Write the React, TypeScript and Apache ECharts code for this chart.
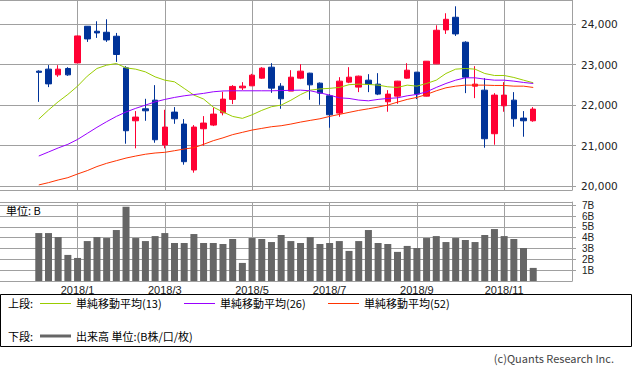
import React, { useEffect, useRef } from 'react';
import * as echarts from 'echarts';

const weeks = [
  '2017-12-04', '2017-12-11', '2017-12-18', '2017-12-25',
  '2018-01-01', '2018-01-08', '2018-01-15', '2018-01-22', '2018-01-29',
  '2018-02-05', '2018-02-12', '2018-02-19', '2018-02-26',
  '2018-03-05', '2018-03-12', '2018-03-19', '2018-03-26',
  '2018-04-02', '2018-04-09', '2018-04-16', '2018-04-23', '2018-04-30',
  '2018-05-07', '2018-05-14', '2018-05-21', '2018-05-28',
  '2018-06-04', '2018-06-11', '2018-06-18', '2018-06-25',
  '2018-07-02', '2018-07-09', '2018-07-16', '2018-07-23', '2018-07-30',
  '2018-08-06', '2018-08-13', '2018-08-20', '2018-08-27',
  '2018-09-03', '2018-09-10', '2018-09-17', '2018-09-24',
  '2018-10-01', '2018-10-08', '2018-10-15', '2018-10-22', '2018-10-29',
  '2018-11-05', '2018-11-12', '2018-11-19', '2018-11-26',
];

const opens = [
  22840, 22890, 22748, 22906, 23044, 23951, 23827, 23802, 23704, 22921,
  21612, 21909, 22123, 21012, 21827, 21531, 20395, 21415, 21506, 21810,
  22141, 22427, 22477, 22667, 22938, 22469, 22346, 22667, 22790, 22543,
  22230, 21802, 22568, 22445, 22617, 22519, 22082, 22222, 22667, 22815,
  22222, 23020, 23860, 24173, 23556, 22469, 22370, 21292, 21983, 22123,
  21679, 21612,
];
const closes = [
  22810, 22525, 22889, 22748, 23711, 23637, 23785, 23612, 23252, 21366,
  21704, 21859, 21143, 21457, 21662, 20600, 21457, 21556, 21778, 22148,
  22462, 22469, 22741, 22914, 22420, 22156, 22691, 22840, 22501, 22296,
  21761, 22593, 22691, 22716, 22519, 22272, 22272, 22593, 22864, 22272,
  23086, 23852, 24123, 23761, 22691, 22519, 21168, 22247, 22247, 21662,
  21612, 21901,
];
const lows = [
  22080, 22445, 22699, 22724, 23040, 23563, 23662, 23563, 23069, 21045,
  20931, 21612, 21069, 20931, 21538, 20526, 20329, 20995, 21481, 21746,
  22025, 22370, 22470, 22650, 22304, 21909, 22346, 22642, 22131, 22008,
  21440, 21711, 22543, 22321, 22321, 22247, 21836, 22032, 22650, 22148,
  22215, 23015, 23761, 23711, 22296, 22173, 20946, 21020, 21836, 21464,
  21218, 21588,
];
const highs = [
  22860, 22990, 22988, 22938, 23720, 23955, 24074, 24123, 23785, 22963,
  21852, 22156, 22494, 21884, 21951, 21654, 21506, 21728, 21943, 22329,
  22494, 22568, 22773, 22938, 23037, 22543, 22864, 23012, 22800, 22560,
  22272, 22691, 22938, 22730, 22765, 22790, 22370, 22600, 23037, 22820,
  23090, 23975, 24272, 24444, 23580, 22963, 22667, 22296, 22568, 22321,
  21852, 21951,
];

const ma13 = [
  21654, 21877, 22082, 22264, 22469, 22716, 22906, 22988, 23029, 22921,
  22889, 22822, 22699, 22617, 22576, 22412, 22247, 22150, 21950, 21830,
  21720, 21672, 21760, 21870, 21960, 22000, 22120, 22260, 22370, 22400,
  22415, 22437, 22505, 22519, 22511, 22494, 22453, 22437, 22494, 22469,
  22535, 22617, 22782, 22889, 22906, 22889, 22782, 22733, 22733, 22684,
  22617, 22552,
];
const ma26 = [
  20741, 20840, 20940, 21030, 21150, 21300, 21450, 21590, 21720, 21830,
  21920, 22000, 22080, 22140, 22190, 22230, 22260, 22290, 22330, 22350,
  22354, 22354, 22354, 22354, 22354, 22360, 22365, 22370, 22354, 22304,
  22247, 22180, 22165, 22124, 22106, 22141, 22165, 22180, 22230, 22264,
  22329, 22437, 22535, 22617, 22675, 22675, 22642, 22617, 22617, 22593,
  22560, 22535,
];
const ma52 = [
  20025, 20082, 20148, 20205, 20296, 20380, 20480, 20560, 20625, 20690,
  20740, 20785, 20815, 20832, 20872, 20914, 20946, 21030, 21120, 21190,
  21270, 21326, 21383, 21424, 21465, 21490, 21531, 21580, 21622, 21662,
  21720, 21770, 21820, 21869, 21909, 21951, 22000, 22074, 22141, 22190,
  22264, 22354, 22428, 22469, 22494, 22494, 22494, 22486, 22486, 22469,
  22469, 22437,
];

const volumes = [
  4.43, 4.43, 4.06, 2.41, 2.13, 3.69, 4.06, 3.97, 4.71, 6.85,
  3.97, 3.69, 4.15, 4.43, 3.51, 3.51, 4.34, 3.51, 3.51, 3.42,
  3.88, 1.67, 3.97, 3.88, 3.6, 4.25, 3.69, 3.51, 4.06, 3.42,
  3.51, 3.69, 2.78, 3.69, 4.71, 3.51, 3.42, 2.69, 3.24, 3.05,
  3.97, 4.15, 3.6, 3.97, 3.79, 3.6, 4.25, 4.8, 4.15, 3.88,
  3.05, 1.21,
];

const tickWeeks = ['2018-01-01', '2018-03-05', '2018-05-07', '2018-07-02', '2018-09-03', '2018-11-05'];
const tickLabels = ['2018/1', '2018/3', '2018/5', '2018/7', '2018/9', '2018/11'];

const legendNames = ['単純移動平均(13)', '単純移動平均(26)', '単純移動平均(52)'];
const maColors = ['#99cc00', '#9900ff', '#ff3300'];

const preCats = ['p1', 'p2', 'p3', 'p4'];
const postCats = ['q1', 'q2', 'q3', 'q4'];
const categories = [...preCats, ...weeks, ...postCats];
const padArr = (arr: any[]) => [...preCats.map(() => '-'), ...arr, ...postCats.map(() => '-')];

const GRID_COLOR = '#a0a0a0';
const CJK = '"Noto Sans CJK JP", "Noto Sans", sans-serif';

export default function App() {
  const ref = useRef<HTMLDivElement>(null);
  useEffect(() => {
    document.body.style.margin = '0';
    const chart = echarts.init(ref.current!, undefined, { renderer: 'svg' });
    const candleData = padArr(weeks.map((_, i) => [opens[i], closes[i], lows[i], highs[i]]));
    const isTick = (_i: number, v: string) => tickWeeks.indexOf(v) >= 0;

    const xCommon = {
      type: 'category',
      data: categories,
      boundaryGap: false,
      axisLine: { show: true, lineStyle: { color: GRID_COLOR } },
      axisTick: { show: false },
      splitLine: { show: true, interval: isTick, lineStyle: { color: GRID_COLOR, width: 1 } },
    };

    const option: any = {
      animation: false,
      backgroundColor: '#ffffff',
      grid: [
        { left: 0, right: 61, top: 0, height: 190 },
        { left: 0, right: 61, top: 202, height: 79 },
      ],
      xAxis: [
        { ...xCommon, gridIndex: 0, axisLabel: { show: false } },
        {
          ...xCommon,
          gridIndex: 1,
          axisLabel: {
            show: true,
            interval: isTick,
            margin: 3,
            color: '#222',
            fontSize: 11,
            fontFamily: '"Liberation Sans", sans-serif',
            formatter: (v: string) => {
              const k = tickWeeks.indexOf(v);
              return k >= 0 ? tickLabels[k] : '';
            },
          },
        },
      ],
      yAxis: [
        {
          type: 'value',
          gridIndex: 0,
          position: 'right',
          min: 19900,
          max: 24600,
          splitNumber: 5,
          axisLine: { show: true, lineStyle: { color: GRID_COLOR } },
          axisTick: { show: true, inside: false, length: 4, lineStyle: { color: GRID_COLOR } },
          splitLine: { show: true, lineStyle: { color: GRID_COLOR, width: 1 } },
          axisLabel: {
            showMinLabel: false,
            showMaxLabel: false,
            margin: 9,
            color: '#222',
            fontSize: 10.5,
            fontFamily: '"DejaVu Sans", sans-serif',
            formatter: (v: number) => v.toLocaleString('en-US'),
          },
        },
        {
          type: 'value',
          gridIndex: 1,
          position: 'right',
          min: 0,
          max: 7.3,
          splitNumber: 7,
          axisLine: { show: true, lineStyle: { color: GRID_COLOR } },
          axisTick: { show: true, inside: false, length: 4, lineStyle: { color: GRID_COLOR } },
          splitLine: { show: true, lineStyle: { color: GRID_COLOR, width: 1 } },
          axisLabel: {
            showMinLabel: false,
            showMaxLabel: false,
            margin: 10,
            color: '#222',
            fontSize: 10,
            fontFamily: '"Liberation Sans", sans-serif',
            formatter: (v: number) => `${v}B`,
          },
        },
      ],
      series: [
        {
          type: 'candlestick',
          xAxisIndex: 0,
          yAxisIndex: 0,
          data: candleData,
          barWidth: 6,
          itemStyle: {
            color: '#ff0033',
            color0: '#003399',
            borderColor: '#ff0033',
            borderColor0: '#003399',
            borderWidth: 1,
          },
        },
        ...[ma13, ma26, ma52].map((arr, k) => ({
          type: 'line',
          name: legendNames[k],
          xAxisIndex: 0,
          yAxisIndex: 0,
          data: padArr(arr),
          showSymbol: false,
          symbol: 'none',
          smooth: false,
          lineStyle: { color: maColors[k], width: 1 },
          z: 3,
        })),
        {
          type: 'bar',
          xAxisIndex: 1,
          yAxisIndex: 1,
          data: padArr(volumes),
          barWidth: 7,
          itemStyle: { color: '#666666' },
        },
      ],
      graphic: [
        {
          type: 'text',
          left: 6,
          top: 204,
          style: { text: '単位: B', font: `11px ${CJK}`, fill: '#000' },
        },
        {
          type: 'rect',
          shape: { x: 0.5, y: 294.5, width: 631, height: 52 },
          style: { fill: 'none', stroke: '#000', lineWidth: 1 },
        },
        { type: 'text', x: 8, y: 303, style: { text: '上段:', font: `11px ${CJK}`, fill: '#000', verticalAlign: 'middle' } },
        { type: 'line', shape: { x1: 40, y1: 303.5, x2: 71, y2: 303.5 }, style: { stroke: maColors[0], lineWidth: 1 } },
        { type: 'text', x: 76, y: 303, style: { text: legendNames[0], font: `11px ${CJK}`, fill: '#000', verticalAlign: 'middle' } },
        { type: 'line', shape: { x1: 184, y1: 303.5, x2: 215, y2: 303.5 }, style: { stroke: maColors[1], lineWidth: 1 } },
        { type: 'text', x: 220, y: 303, style: { text: legendNames[1], font: `11px ${CJK}`, fill: '#000', verticalAlign: 'middle' } },
        { type: 'line', shape: { x1: 328, y1: 303.5, x2: 359, y2: 303.5 }, style: { stroke: maColors[2], lineWidth: 1 } },
        { type: 'text', x: 364, y: 303, style: { text: legendNames[2], font: `11px ${CJK}`, fill: '#000', verticalAlign: 'middle' } },
        { type: 'text', x: 8, y: 336, style: { text: '下段:', font: `11px ${CJK}`, fill: '#000', verticalAlign: 'middle' } },
        { type: 'line', shape: { x1: 40, y1: 336, x2: 71, y2: 336 }, style: { stroke: '#666666', lineWidth: 3 } },
        { type: 'text', x: 76, y: 336, style: { text: '出来高 単位:(B株/口/枚)', font: `11px ${CJK}`, fill: '#000', verticalAlign: 'middle' } },
        {
          type: 'text',
          x: 614,
          y: 358,
          style: { text: '(c)Quants Research Inc.', font: `11px ${CJK}`, fill: '#444', align: 'right', verticalAlign: 'middle' },
        },
      ],
    };
    chart.setOption(option);
    return () => chart.dispose();
  }, []);
  return <div ref={ref} style={{ width: 633, height: 370 }} />;
}
